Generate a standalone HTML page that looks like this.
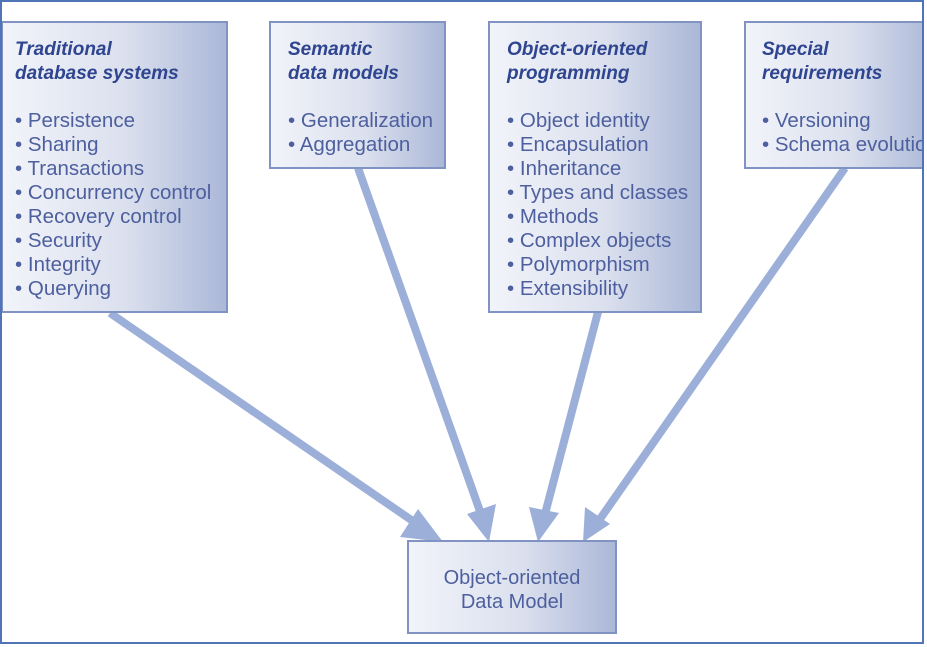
<!DOCTYPE html>
<html><head><meta charset="utf-8"><style>
html,body{margin:0;padding:0;background:#fff;}
svg{display:block;}
.t{font-family:"Liberation Sans",sans-serif;font-size:19px;font-weight:bold;font-style:italic;fill:#2f4590;}
.i{font-family:"Liberation Sans",sans-serif;font-size:20.5px;fill:#4d5f9e;}
.c{font-family:"Liberation Sans",sans-serif;font-size:20px;fill:#4d5f9e;}
</style></head><body>
<svg width="927" height="647" viewBox="0 0 927 647" xmlns="http://www.w3.org/2000/svg">
<defs>
<linearGradient id="g" x1="0" y1="0" x2="1" y2="0">
<stop offset="0" stop-color="#f2f4fa"/><stop offset="0.55" stop-color="#dbe0ee"/><stop offset="1" stop-color="#aab7d7"/>
</linearGradient>
<clipPath id="cp"><rect x="0" y="0" width="923" height="647"/></clipPath>
</defs>
<rect x="0" y="0" width="927" height="647" fill="#fff"/>
<g clip-path="url(#cp)">
<g stroke="#9cafd9" stroke-width="8" fill="none">
<line x1="110" y1="313" x2="420" y2="526"/>
<line x1="358" y1="168" x2="481" y2="514"/>
<line x1="598" y1="312" x2="545" y2="514"/>
<line x1="845" y1="168" x2="600" y2="519"/>
</g>
<g fill="#9cafd9">
<polygon points="443,542 400,537 418,509"/>
<polygon points="489,542 467,514 496,504"/>
<polygon points="538,542 529,507 559,513"/>
<polygon points="583,542 585,507 610,524"/>
</g>
<g stroke="#8093c2" stroke-width="2" fill="url(#g)">
<rect x="2" y="22" width="225" height="290"/>
<rect x="270" y="22" width="175" height="146"/>
<rect x="489" y="22" width="212" height="290"/>
<rect x="745" y="22" width="190" height="146"/>
<rect x="408" y="541" width="208" height="92"/>
</g>
<text class="t" x="15" y="55">Traditional</text>
<text class="t" x="15" y="79">database systems</text>
<g class="i">
<text x="15" y="127">• Persistence</text>
<text x="15" y="151">• Sharing</text>
<text x="15" y="175">• Transactions</text>
<text x="15" y="199">• Concurrency control</text>
<text x="15" y="223">• Recovery control</text>
<text x="15" y="247">• Security</text>
<text x="15" y="271">• Integrity</text>
<text x="15" y="295">• Querying</text>
</g>
<text class="t" x="288" y="55">Semantic</text>
<text class="t" x="288" y="79">data models</text>
<g class="i">
<text x="288" y="127">• Generalization</text>
<text x="288" y="151">• Aggregation</text>
</g>
<text class="t" x="507" y="55">Object-oriented</text>
<text class="t" x="507" y="79">programming</text>
<g class="i">
<text x="507" y="127">• Object identity</text>
<text x="507" y="151">• Encapsulation</text>
<text x="507" y="175">• Inheritance</text>
<text x="507" y="199">• Types and classes</text>
<text x="507" y="223">• Methods</text>
<text x="507" y="247">• Complex objects</text>
<text x="507" y="271">• Polymorphism</text>
<text x="507" y="295">• Extensibility</text>
</g>
<text class="t" x="762" y="55">Special</text>
<text class="t" x="762" y="79">requirements</text>
<g class="i">
<text x="762" y="127">• Versioning</text>
<text x="762" y="151">• Schema evolution</text>
</g>
<text class="c" x="512" y="584" text-anchor="middle">Object-oriented</text>
<text class="c" x="512" y="608" text-anchor="middle">Data Model</text>
</g>
<rect x="1" y="1" width="922" height="642" fill="none" stroke="#4f74b8" stroke-width="2"/>
</svg>
</body></html>
